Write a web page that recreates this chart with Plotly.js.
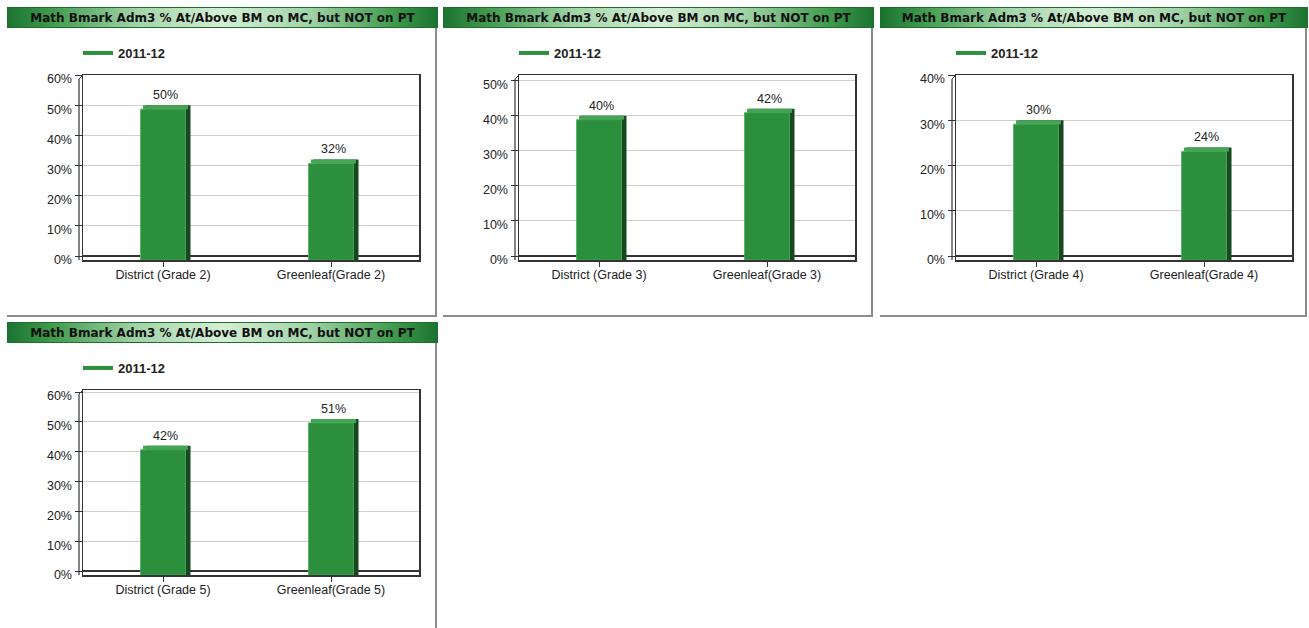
<!DOCTYPE html>
<html>
<head>
<meta charset="utf-8">
<script src="https://cdn.plot.ly/plotly-3.0.1.min.js"></script>
<style>
  html, body { margin: 0; padding: 0; background: #ffffff; width: 1309px; height: 628px; overflow: hidden; }
  .panel { position: absolute; }
  .frame { position: absolute; left: 0; top: 0; box-sizing: border-box;
           border-right: 2px solid #8c8c8c; border-bottom: 2px solid #8c8c8c; }
  .tbar { position: absolute; left: 0; top: 0; height: 21px; box-sizing: border-box;
          border: 1px solid #1f6f2c;
          background: linear-gradient(to right, #1a7430 0%, #3f9a4d 10%, #a2d3a8 30%, #d5eed5 50%, #a2d3a8 70%, #3f9a4d 90%, #1a7430 100%); }
  .plot { position: absolute; left: 0; top: 0; }
</style>
</head>
<body>
<script>
// ---- data ----
const chartTitle = "Math Bmark Adm3 % At/Above BM on MC, but NOT on PT";
const seriesName = "2011-12";
const grades = ["Grade 2", "Grade 3", "Grade 4", "Grade 5"];
const districtLabels = ["District (Grade 2)", "District (Grade 3)", "District (Grade 4)", "District (Grade 5)"];
const greenleafLabels = ["Greenleaf(Grade 2)", "Greenleaf(Grade 3)", "Greenleaf(Grade 4)", "Greenleaf(Grade 5)"];
const districtValues = [50, 40, 30, 42];
const greenleafValues = [32, 42, 24, 51];
const yAxisTop = [60, 51.6, 40, 60.7];

// ---- layout of the panels (page pixels) ----
const panelBoxes = [
  { left: 7,   top: 7,   w: 431, h: 311 },
  { left: 443, top: 7,   w: 431, h: 311 },
  { left: 880, top: 7,   w: 428, h: 311 },
  { left: 7,   top: 322, w: 431, h: 311 }
];

const FRONT = "#2b8f3d", SIDE = "#17481f", TOPC = "#46a554";
const plotW = 336, plotTop = 68, plotBottom = 253, depthPx = 4, depthX = 5;

panelBoxes.forEach((p, i) => {
  const panel = document.createElement("div");
  panel.className = "panel";
  panel.style.left = p.left + "px"; panel.style.top = p.top + "px";
  panel.style.width = p.w + "px"; panel.style.height = p.h + "px";
  const frame = document.createElement("div");
  frame.className = "frame";
  frame.style.width = (p.w - 1) + "px"; frame.style.height = (p.h - 1) + "px";
  const tbar = document.createElement("div");
  tbar.className = "tbar";
  tbar.style.width = p.w + "px";
  const pd = document.createElement("div");
  pd.className = "plot";
  pd.style.width = p.w + "px"; pd.style.height = p.h + "px";
  panel.appendChild(frame); panel.appendChild(tbar); panel.appendChild(pd);
  document.body.appendChild(panel);

  const cats = [districtLabels[i], greenleafLabels[i]];
  const vals = [districtValues[i], greenleafValues[i]];
  const top = yAxisTop[i];
  const plotH = plotBottom - plotTop;
  const backH = plotH - depthPx;
  const d = top * depthPx / backH;          // depth in data units
  const catPx = plotW / 2;
  const dx = depthX / catPx;                // side depth in category units
  const shift = depthPx / catPx;
  const w = 45 / catPx;

  const common = { x: cats, type: "bar", width: w, hoverinfo: "skip", showlegend: false, cliponaxis: false };
  const side = Object.assign({}, common, { y: vals.map(v => v + d), base: vals.map(() => -d),
    offset: -w / 2 + dx, marker: { color: SIDE } });
  const topFace = Object.assign({}, common, { y: vals.map(() => d), base: vals.map(v => v - d),
    offset: -w / 2 + dx / 2, marker: { color: TOPC },
    text: vals.map(v => v + "%"), textposition: "outside",
    textfont: { family: "Liberation Sans, Arial, sans-serif", size: 12.5, color: "#222" } });
  const front = Object.assign({}, common, { y: vals, base: vals.map(() => -d),
    offset: -w / 2, marker: { color: FRONT, line: { color: "#4fae5d", width: 0.8 } } });
  const legendTrace = { x: [null], y: [null], type: "scatter", mode: "lines", name: seriesName,
    line: { color: "#2b8f3d", width: 4 }, showlegend: true, hoverinfo: "skip" };

  const layout = {
    width: p.w, height: p.h,
    margin: { l: 76, r: p.w - 76 - plotW, t: plotTop, b: p.h - plotBottom, pad: 0 },
    paper_bgcolor: "rgba(0,0,0,0)", plot_bgcolor: "#ffffff",
    barmode: "overlay",
    font: { family: "Liberation Sans, Arial, sans-serif", size: 12, color: "#222" },
    title: { text: chartTitle, x: 0.5, xanchor: "center", xref: "container",
             y: 1 - 10.5 / p.h, yanchor: "middle", yref: "container",
             font: { family: "DejaVu Sans, sans-serif", size: 12, weight: "bold", color: "#111" } },
    showlegend: true,
    legend: { orientation: "h", xref: "container", yref: "container", x: 71 / p.w, xanchor: "left",
              y: 1 - 46 / p.h, yanchor: "middle", bgcolor: "rgba(0,0,0,0)",
              font: { family: "Liberation Sans, Arial, sans-serif", size: 13, weight: "bold", color: "#222" } },
    xaxis: { type: "category", range: [-0.5 + shift, 1.5 + shift], fixedrange: true,
             showline: true, linecolor: "#333", linewidth: 1.5, mirror: true,
             ticks: "outside", ticklen: 5, tickcolor: "#333", showgrid: false,
             ticklabelstandoff: -3,
             tickfont: { size: 12.5, color: "#222" } },
    yaxis: { range: [-d, top], tick0: 0, dtick: 10, ticksuffix: "%", fixedrange: true,
             showline: true, linecolor: "#333", linewidth: 1.5, mirror: true,
             ticks: "outside", ticklen: 7, tickcolor: "#333", ticklabelshift: depthPx,
             showgrid: true, gridcolor: "#cfcfcf", gridwidth: 1,
             zeroline: true, zerolinecolor: "#333", zerolinewidth: 1.2,
             tickfont: { size: 12.5, color: "#222" } },
    shapes: [
      { type: "line", xref: "paper", yref: "paper", layer: "above",
        x0: -depthPx / plotW, x1: -depthPx / plotW, y0: 0, y1: 1 - depthPx / plotH,
        line: { color: "#333", width: 1.2 } },
      { type: "line", xref: "paper", yref: "paper", layer: "above",
        x0: -depthPx / plotW, x1: 0, y0: 1 - depthPx / plotH, y1: 1,
        line: { color: "#333", width: 1 } }
    ],
    hovermode: false
  };
  Plotly.newPlot(pd, [side, topFace, front, legendTrace], layout, { staticPlot: true, displayModeBar: false });
});
</script>
</body>
</html>
